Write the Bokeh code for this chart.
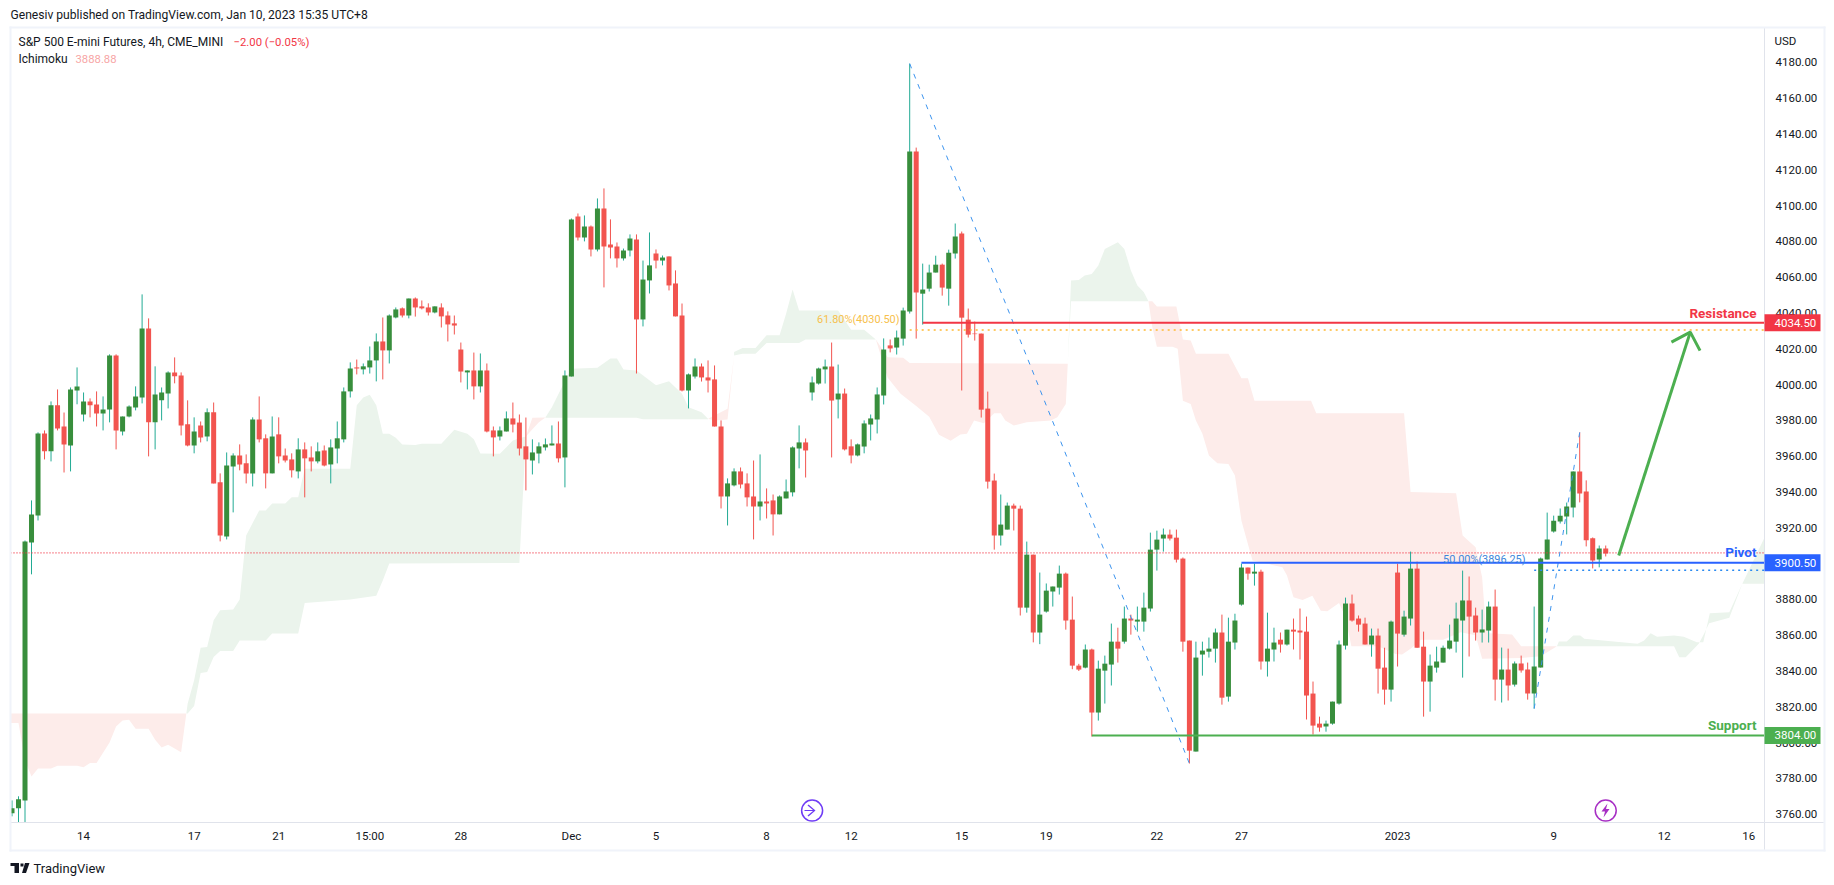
from bokeh.plotting import figure
from bokeh.embed import file_html
from bokeh.resources import INLINE
from bokeh.models import (Range1d, FixedTicker, Label, BoxAnnotation, PolyAnnotation,
                          ColumnDataSource, NumeralTickFormatter)

# ---------- candles (4h bars) ----------
opens = [3760.5,3763.3,3767.7,3911.8,3926.9,3972.7,3962.7,3988.4,3976.6,3966.0,
3996.7,3983.3,3990.6,3988.9,3983.9,3986.1,4016.3,3973.8,3982.2,3987.2,
3992.8,4031.4,3978.9,3991.2,3995,4006.8,4005.1,3977.8,3966,3977.2,
3971,3984.5,3945.4,3915.2,3954.3,3960.4,3956,3950.4,3980.5,3970,
3950.4,3972.2,3960.4,3958.2,3951.5,3963.8,3959.3,3957.1,3963.2,3955.4,
3964.3,3969.4,3996.2,4009.6,4008.5,4009.6,4013.5,4024.1,4019.1,4037.5,
4042.6,4038.6,4048.1,4043.7,4043.1,4040.3,4043.1,4038.6,4034.2,4019.6,
4006.8,4007.9,3999,4007.9,3974.4,3971,3973.8,3981.1,3978.8,3965.5,
3957.6,3961.5,3964.9,3966,3967.1,3959.3,4004.5,4093.9,4082.2,4088.3,
4075.5,4098.4,4078.3,4077.2,4070.5,4074.9,4081.1,4036.4,4058.2,4073.2,
4069.3,4071.6,4056.5,4038.6,3996.7,4004.5,4010.1,4004,4002.9,3976.6,
3937.5,3943.7,3951.5,3944.8,3937.5,3931.9,3934.7,3935.3,3927.5,3936.4,
3939.8,3964.3,3967.7,3995.6,4000.6,4008.5,4010.1,3991.7,3995,3965.5,
3960.4,3965.4,3977.7,3980.5,3993.9,4021.9,4020.7,4025.7,4040.8,4130.2,
4050.8,4053.6,4062.6,4067,4053.6,4073.2,4084.4,4036.3,4028.5,4028.5,
3986.6,3946.4,3915.7,3919,3932.4,3930.7,3875.4,3905,3861.5,3873.2,
3884.4,3886.6,3894.4,3868.7,3843,3841.9,3852,3816.8,3840.2,3843.6,
3856.4,3856.4,3869.3,3867.6,3867.6,3874.9,3907.8,3914,3916.2,3914.5,
3902.8,3857,3795,3849.2,3850.8,3852.5,3861.5,3825.7,3855.9,3877.1,
3897.8,3894.4,3895.5,3845.3,3852,3857.5,3854.8,3863.1,3862.6,3862,
3827.4,3810.6,3809,3810.6,3821.8,3854.2,3877.7,3869.3,3866.5,3854.8,
3859.8,3841.9,3829.6,3895,3860.3,3869.3,3897.2,3853.6,3834.1,3841.9,
3844.7,3852.5,3856.4,3868.2,3879.4,3871,3861.5,3862.6,3876,3835.2,
3840.8,3832.4,3844.2,3840.8,3827.4,3841.9,3902.3,3917.9,3923.5,3926.3,
3931.4,3951.5,3940.3,3914.1,3902.3,3908.5]
closes = [3763.3,3768.3,3912.4,3927.5,3972.7,3962.7,3988.4,3975.5,3966.6,3997.3,
3999,3990.6,3988.4,3983.9,3986.1,4016.3,3974.4,3982.2,3987.8,3993.4,
4031.4,3978.9,3994.5,3995.6,4006.8,4004.6,3977.2,3966,3973.8,3970.5,
3984.5,3944.8,3915.7,3954.8,3960.4,3955.4,3950.4,3980.5,3969.4,3950.4,
3971,3959.9,3957.6,3952.1,3963.8,3958.8,3957.1,3962.7,3954.8,3964.9,
3970,3996.2,4009,4009,4010.2,4013.5,4024.1,4019.1,4038.6,4042,
4038.6,4048.1,4043.1,4042.6,4040.3,4043.7,4038.1,4033.6,4033,4007.3,
4007.9,3999,4007.9,3973.8,3970.5,3974.4,3981.1,3977.7,3964.3,3958.2,
3962.1,3965.5,3966.6,3967.1,3958.8,4005.1,4092.3,4082.2,4088.3,4075.5,
4098.4,4077.2,4076.6,4070.5,4074.9,4081.6,4036.4,4058.7,4066.6,4069.3,
4071,4055.4,4038.1,3996.7,4005.7,4010.1,4004,4002.3,3976.6,3937.5,
3944.8,3951.5,3944.2,3937,3931.9,3934.7,3933.6,3927.5,3937.5,3940.3,
3964.9,3967.7,3963.2,4001.2,4009,4010.1,3991.1,3995,3963.8,3960.4,
3966.6,3978.3,3981.1,3994.5,4019.6,4020.2,4026.3,4041.4,4130.2,4051.4,
4053.1,4062.6,4067,4054.2,4073.7,4082.7,4037.4,4027.9,4028.2,3986,
3945.8,3915.7,3921.8,3932.4,3930.7,3875.4,3905,3861.5,3871.5,3884.9,
3887.2,3894.4,3868.2,3843,3840.8,3852,3816.8,3841.3,3844.1,3856.4,
3852.5,3869.3,3868.2,3868.7,3875.4,3907.8,3913.4,3916.2,3914,3902.2,
3856.4,3795.5,3847.5,3851.4,3852.5,3861.5,3825.1,3856.4,3868.2,3897.8,
3894.4,3895.5,3845.3,3852.5,3855.9,3854.8,3863.1,3862,3861.5,3826.3,
3809.5,3808.4,3810.6,3822.9,3854.8,3877.7,3868.2,3865.9,3854.8,3859.8,
3841.3,3829.6,3867.6,3860.9,3870.4,3897.2,3853,3834.1,3843,3845.3,
3853,3857,3869.3,3879.4,3870.4,3861.5,3863.2,3876,3835.2,3840.8,
3831.9,3844.2,3840.3,3827.4,3842.5,3902.8,3913.4,3924,3926.8,3931.9,
3951.5,3939.2,3913,3901.8,3908.5,3905.7]
highs = [3767.7,3770,3912.9,3935.3,3973.3,3974.4,3990.6,3997.3,3984.4,3998.4,
4009.6,3995.6,3992.3,3996.2,3993.4,4016.9,4016.9,3982.2,3988.4,3999,
4050.4,4037,4010.2,3998.4,4007.4,4015.2,4006.8,3991.2,3981.7,3979.4,
3986.7,3990,3950.4,3962.1,3961.6,3966.6,3961,3981.7,3993.4,3972.2,
3982.2,3981.7,3964.3,3961.6,3970,3967.7,3965.5,3967.7,3966,3969.4,
3979.4,3998.4,4012.4,4014,4011.8,4021.3,4028.6,4037.5,4039.2,4043.1,
4043.1,4048.1,4048.7,4047,4045.4,4043.7,4045.4,4040.9,4038.6,4023.5,
4007.9,4017.9,4017.4,4011.8,3976.6,3976.6,3985,3990,3983.3,3981.6,
3969.4,3967.7,3969.9,3977.2,3979.4,4007.9,4092.8,4095.6,4094.5,4088.9,
4104,4109.6,4092.3,4079.4,4076,4083.9,4083.9,4069.3,4085,4075.5,
4072.1,4071.6,4063.8,4045.3,4006.2,4014.6,4011.8,4013.5,4010.7,3980,
3947.6,3953.2,3953.7,3950.4,3957.6,3961,3942,3938.6,3938.1,3947,
3965.5,3977.2,3969.9,4004.5,4009.5,4014,4023.5,4011.2,3997.8,3969.4,
3967.1,3980,3983.3,3998.4,4025.8,4025.2,4030.2,4043,4179.3,4132.4,
4067.6,4067,4072,4067.6,4075.4,4090,4085.5,4042.5,4035.2,4028.5,
3996.1,3950.3,3938.6,3934.1,3933.5,3932.4,3912.3,3905,3895,3888.9,
3887.2,3898.9,3895,3881.6,3844,3854.8,3852.5,3845.8,3848.6,3866.5,
3864.2,3876,3871.5,3876,3883.8,3917.3,3918.4,3919.6,3919,3919,
3903.4,3857,3856.4,3856.4,3858.7,3863.7,3871.5,3869.8,3872,3900,
3897.8,3900,3896.6,3872.6,3864.2,3861.5,3863.1,3869.3,3874.9,3870.4,
3834.1,3814.5,3812.3,3822.9,3857,3881,3882.7,3871,3869.8,3863.7,
3863.7,3853,3868.2,3900,3873.7,3906.7,3901.1,3862,3849.2,3853.6,
3854.2,3865.9,3878.2,3896.1,3892.8,3875.4,3874.3,3878.8,3885.5,3853.1,
3852.5,3845.3,3848.6,3844.7,3876,3903.4,3928.5,3926.8,3930.8,3934.1,
3951.5,3973.3,3946.5,3914.6,3910.1,3910.1]
lows = [3758.8,3755.5,3755.5,3894,3924.1,3958.2,3957.1,3974.4,3950.9,3951.5,
3989,3979.4,3981.7,3976.6,3974.4,3978.9,3963.8,3971.6,3981.7,3985.6,
3989.5,3959.9,3963.8,3980,3986.7,4000.7,3971.6,3965.5,3961.6,3967.7,
3968.3,3944.8,3912.4,3913.5,3928.6,3952.1,3944.8,3943.1,3967.7,3942,
3950.4,3956,3956.5,3948.1,3947.6,3937,3951.5,3956,3954.3,3944.8,
3956,3967.7,3992.8,4005.7,4005.7,4006.2,4001.8,4002.9,4011.8,4037,
4037.5,4037,4038,4042,4038.6,4039.8,4031.9,4024.1,4028,4001.2,
3997.3,3991.7,3995.6,3973.3,3959.9,3968.8,3973.8,3973.3,3960.4,3940.9,
3949.8,3956,3963.2,3966,3956.5,3942.6,4004.5,4080.5,4080,4071.6,
4074.4,4054.3,4070.5,4065.4,4069.3,4071.6,4006.2,4032.5,4050.9,4064.9,
4066.6,4052.6,4038.1,3996.2,3986.7,4003.4,4001.7,3995.6,3976.6,3930.8,
3921.3,3943.1,3942,3931.9,3913.5,3924.1,3925.2,3915.7,3927.5,3936.4,
3937.5,3953.2,3948.1,3991.1,4000,4000.6,3959.3,3981.1,3963.2,3956,
3959.9,3961.6,3968.8,3972.7,3988.9,4018,4016.8,4021.8,4039.7,4025.7,
4033.5,4052,4062.6,4049.7,4044.1,4070.4,3996.7,4026.3,4024.6,3981.6,
3941.9,3907.8,3910.1,3919,3918.5,3871,3872.6,3856,3855,3872.6,
3876,3882.7,3863.1,3841,3840,3841.5,3803.4,3812.3,3821.8,3831.9,
3844.7,3855.3,3860.3,3862,3862,3873.2,3896.1,3906.7,3912.9,3900.6,
3850.8,3788.3,3795,3837.4,3847.5,3844.7,3821.2,3822.9,3852,3876.5,
3891,3887.7,3840.8,3836.9,3845.3,3850.3,3854.2,3852,3846.4,3812.9,
3804.5,3806.1,3806.1,3810,3821.2,3852,3867.6,3862,3854.8,3848,
3827.4,3821.2,3822.9,3842.5,3859.2,3865.4,3853,3814.5,3817.3,3839.1,
3844.7,3852,3850.3,3836.3,3848.1,3857,3855.9,3855.9,3823.5,3822.4,
3823.5,3831.3,3839.1,3824,3819,3841.9,3902.3,3917.3,3922.4,3916.3,
3925.8,3934.2,3909.6,3897.3,3897.9,3904]

# ---------- Ichimoku cloud outlines as (bar, price) ----------
red1_top = [(-0.23,3816.2),(26.8,3816.2)]
red1_bot = [(-0.23,3811),(1,3811),(2,3790),(3,3781),(4,3785.6),(6,3785.6),(7,3787),(10,3787),(11,3786.2),(12,3788.6),(13,3788.6),(15,3800),(16,3809),(17,3812.4),(18,3812.8),(19,3807.8),(21,3807.8),(22,3801.6),(23,3797.2),(24,3798.8),(26,3794.6),(26.8,3816.2)]
green1_top = [(26.8,3816.2),(27,3821.7),(28,3834.8),(29,3853),(30,3853.4),(31,3868.3),(32,3873.9),(34,3874.3),(35,3879.9),(36,3915.7),(38,3929.7),(39,3929.7),(40,3933.6),(42,3933.6),(43,3937),(44,3937),(45,3953),(52,3953),(53,3988.4),(54,3992.8),(55,3994.3),(56,3988.4),(57,3972.6),(58,3972.6),(59,3970.3),(60,3966.6),(62,3966.2),(63,3967),(66,3967),(68,3974.8),(70,3972.5),(71,3969.5),(72,3961.5),(75,3961.4),(76,3965),(77,3968.8),(78,3970),(79,3971)]
green1_bot = [(26.8,3816.2),(27,3816.2),(28,3820.4),(29,3838.9),(30,3839.4),(31,3847.8),(32,3851.2),(34,3851.2),(35,3857.1),(39,3857.1),(40,3860.9),(44,3860.9),(45,3878),(52,3880),(56,3882),(57,3890.6),(58,3900.1),(78,3900.3),(79,3971)]
red2_top = [(79,3971),(80,3981.5),(82,3981.6)]
red2_bot = [(79,3971),(80,3975),(81,3979),(82,3981.6)]
green2_top = [(82,3981.6),(83,3987.4),(85,4002),(86,4008.8),(90,4009.4),(92,4014.6),(93,4014.6),(94,4008.5),(96,4007.9),(99,3999.7),(100,4000.8),(101,4001.9),(103,3994.9),(104,3987.4),(106,3984.6),(107,3980.9)]
green2_bot = [(82,3981.5),(96,3981.5),(97,3980.7),(107,3980.7)]
red3_top = [(107,3980.9),(110,3986.5),(111,4016)]
red3_bot = [(107,3980.9),(108,3980),(109,3980.2),(110,3980.5),(111,4016)]
green3_top = [(111,4018.2),(112.3,4020.4),(114.3,4020.4),(116,4027.6),(118,4027.6),(119,4039.6),(120,4053.1),(121,4041.4),(127,4041.4),(129,4030.6),(131,4030.6),(132.8,4025.2)]
green3_bot = [(111,4016.3),(112.3,4017.2),(114.3,4017.2),(116,4023.2),(121,4023.2),(122,4025.2),(132.8,4025.2)]
red4_top = [(132.8,4025.2),(134.6,4015.3),(137,4015),(138,4012),(162.3,4011.6)]
red4_bot = [(132.8,4025.2),(134.6,4004),(136.6,3994.9),(139,3988),(141,3982),(142.5,3972),(144.3,3968.7),(145.8,3972.1),(146.8,3972.5),(147.9,3979.9),(149.4,3978.4),(151,3984),(152,3984),(152.7,3979.9),(154,3977.1),(156,3979),(159.7,3979.9),(160.7,3981.8),(162,3989.2),(162.3,4011.6)]
green4_top = [(162.3,4012),(162.8,4058.1),(164,4058.5),(164.9,4060.9),(166,4061.8),(167,4066.5),(168,4075.8),(170,4079.5),(171,4075.8),(172,4063.7),(173,4055.3),(174,4051.6),(174.7,4046.6)]
green4_bot = [(162.3,4012),(162.8,4046.6),(174.7,4046.6)]
red5_top = [(174.7,4046.6),(175.3,4046.6),(176,4043.6),(179,4043.6),(180,4025.2),(181.2,4024.6),(182,4017.2),(187,4017.2),(189,4003.6),(190,4003.6),(191,3991),(199.7,3991),(200.5,3984),(214,3984),(215,3940),(222,3939.3),(223,3915.7),(225,3909.2),(226,3892.4),(226.5,3868),(227,3861.1),(230.6,3860.4),(232,3853.8),(237.5,3853.8)]
red5_bot = [(174.7,4046.6),(175.3,4032),(176,4021.2),(178.4,4021.2),(179.2,4020),(180,3991),(181.2,3989.2),(182,3979.9),(183,3972.5),(184,3960.4),(185.3,3956),(187,3955.7),(188,3949.2),(189,3924),(190.7,3901.7),(195.3,3898),(196,3893.3),(197,3881.2),(198.4,3879.7),(199.9,3882.1),(201.2,3873.7),(202.2,3873.4),(204,3878),(205,3870),(205.9,3853.8),(210,3853.8),(212.7,3849.5),(213.7,3849.2),(215,3852.4),(216.6,3857.4),(220,3857.4),(222.7,3861.6),(225,3860),(226,3846.8),(232,3847.3),(235,3848.3),(237.5,3853.8)]
green5_top = [(237.5,3853.8),(237.8,3856.5),(239,3856.5),(240,3859.8),(241.1,3859.8),(241.7,3858),(249.9,3855.2),(250.9,3857),(251.9,3861.1),(252.9,3859.2),(255.5,3859.8),(257,3859.2),(259,3856.1),(260,3856.1),(261,3872.3),(264,3872.8),(266,3888.7),(269.4,3914.5)]
green5_bot = [(237.5,3853.8),(255.5,3853.8),(256.3,3847.7),(257.3,3847.7),(259.3,3855.2),(260.1,3860.7),(260.9,3866.7),(264,3869.7),(266,3888.7),(269.4,3888.7)]

# ---------- ticks and levels ----------
price_ticks = list(range(3760, 4181, 20))
time_ticks = [11, 28, 41, 55, 69, 86, 99, 116, 129, 146, 159, 176, 189, 213, 237, 254, 267]
time_labels = ["14", "17", "21", "15:00", "28", "Dec", "5", "8", "12", "15", "19", "22", "27", "2023", "9", "12", "16"]
resistance = 4034.5
pivot = 3900.5
support = 3804.0
last_price = 3906.0
fib_618 = 4030.5
fib_500 = 3896.25

BAR0_PX, BAR_PX = 11.5, 6.505
FRAME_L, FRAME_R, FRAME_T, FRAME_B = 10, 1764, 27, 822
PX_PER_PT = 1.79
def idx(px): return (px - BAR0_PX) / BAR_PX
def price(py): return 4020 - (py - 348.3) / PX_PER_PT

W, H = 1830, 880
p = figure(width=W, height=H, output_backend="svg", toolbar_location=None,
           x_range=Range1d(idx(FRAME_L), idx(FRAME_R)),
           y_range=Range1d(price(FRAME_B), price(FRAME_T)),
           y_axis_location="right", tools="",
           min_border_left=FRAME_L, min_border_right=W - FRAME_R,
           min_border_top=FRAME_T, min_border_bottom=H - FRAME_B)
p.outline_line_color = None
p.grid.visible = False
p.background_fill_color = "white"

TXT = "#131722"
FONT = "Roboto"
ax = p.xaxis[0]
ax.ticker = FixedTicker(ticks=time_ticks)
ax.major_label_overrides = dict(zip(time_ticks, time_labels))
ay = p.yaxis[0]
ay.ticker = FixedTicker(ticks=price_ticks)
ay.formatter = NumeralTickFormatter(format="0.00")
for a in (ax, ay):
    a.axis_line_color = "#e0e3eb"
    a.major_tick_line_color = None
    a.minor_tick_line_color = None
    a.major_label_text_color = TXT
    a.major_label_text_font = FONT
    a.major_label_text_font_size = "11.5px"
ax.major_label_standoff = 0
ay.major_label_standoff = 5

# ---------- cloud ----------
GREEN_CLOUD, RED_CLOUD = "#ebf4ec", "#fdecea"
for top, bot, col in ((red1_top, red1_bot, RED_CLOUD), (green1_top, green1_bot, GREEN_CLOUD),
                      (red2_top, red2_bot, RED_CLOUD), (green2_top, green2_bot, GREEN_CLOUD),
                      (red3_top, red3_bot, RED_CLOUD), (green3_top, green3_bot, GREEN_CLOUD),
                      (red4_top, red4_bot, RED_CLOUD), (green4_top, green4_bot, GREEN_CLOUD),
                      (red5_top, red5_bot, RED_CLOUD), (green5_top, green5_bot, GREEN_CLOUD)):
    pts = top + bot[::-1]
    p.patch([q[0] for q in pts], [q[1] for q in pts], fill_color=col, line_color=None)

# ---------- candles ----------
bars = list(range(len(opens)))
up = [i for i in bars if closes[i] >= opens[i]]
dn = [i for i in bars if closes[i] < opens[i]]
def src(ids):
    return ColumnDataSource(dict(x=ids, o=[opens[i] for i in ids], c=[closes[i] for i in ids],
                                 h=[highs[i] for i in ids], l=[lows[i] for i in ids]))
GREEN_BODY, GREEN_WICK, RED_BODY = "#388e3c", "#22ab94", "#f2544f"
p.segment("x", "h", "x", "l", source=src(up), line_color=GREEN_WICK, line_width=1)
p.segment("x", "h", "x", "l", source=src(dn), line_color=RED_BODY, line_width=1)
p.vbar("x", 0.77, "o", "c", source=src(up), fill_color=GREEN_BODY, line_color=None)
p.vbar("x", 0.77, "o", "c", source=src(dn), fill_color=RED_BODY, line_color=None)

# ---------- drawings ----------
xl, xr = idx(FRAME_L), idx(FRAME_R)
p.line([xl, xr], [last_price, last_price], line_color="#f23645", line_width=1.3, line_dash=[1, 2])
FIB = "#3d94ee"
p.line([138, 181], [highs[138], lows[181]], line_color=FIB, line_width=1, line_dash=[5, 6])
p.line([234, 241], [lows[234], highs[241]], line_color=FIB, line_width=1, line_dash=[5, 6])
p.line([138, xr], [fib_618, fib_618], line_color="#ffb933", line_width=1.5, line_dash=[2, 4])
p.line([234, xr], [fib_500, fib_500], line_color="#2a8af0", line_width=1.5, line_dash=[2, 4])
p.line([140, xr], [resistance, resistance], line_color="#f23645", line_width=2)
p.line([189, xr], [pivot, pivot], line_color="#2962ff", line_width=2)
p.line([166, xr], [support, support], line_color="#4caf50", line_width=2)
# target arrow
p.multi_line([[247, 258], [255.1, 258, 259.5]], [[3904.5, 4029.3], [4023.7, 4029.3, 4019]],
             line_color="#4caf50", line_width=3)

# ---------- event markers ----------
ev_bar = [123, 245]
ev_price = [3762, 3762]
p.scatter(ev_bar, ev_price, size=21, marker="circle", fill_color="white",
          line_color=["#6f3cf5", "#a72fc4"], line_width=1.5)

# ---------- transparent overlay for everything outside the plot frame ----------
o = figure(width=W, height=H, output_backend="svg", toolbar_location=None, tools="",
           x_range=Range1d(0, W), y_range=Range1d(0, H), x_axis_type=None, y_axis_type=None,
           min_border=0, min_border_left=0, min_border_right=0, min_border_top=0, min_border_bottom=0,
           margin=(-H, 0, 0, 0))
o.outline_line_color = None
o.grid.visible = False
o.background_fill_alpha = 0
o.border_fill_alpha = 0

def sx(px): return px
def sy(py): return H - py

def text(px, py, s, color=TXT, size="12px", style="normal", align="left", font=FONT):
    o.add_layout(Label(x=sx(px), y=sy(py), x_units="screen", y_units="screen", text=s,
                       text_color=color, text_font=font, text_font_size=size,
                       text_font_style=style, text_align=align, text_baseline="middle"))

def box(l, t, r, b, color):
    o.add_layout(BoxAnnotation(left=sx(l), right=sx(r), top=sy(t), bottom=sy(b),
                               left_units="screen", right_units="screen",
                               top_units="screen", bottom_units="screen",
                               fill_color=color, fill_alpha=1, line_alpha=0, level="annotation"))

def poly(pts, color):
    o.add_layout(PolyAnnotation(xs=[sx(a) for a, _ in pts], ys=[sy(b) for _, b in pts],
                                xs_units="screen", ys_units="screen",
                                fill_color=color, fill_alpha=1, line_alpha=0))

# outer frame
FR = "#f0f3fa"
box(9, 26, 1825, 28, FR); box(9, 849, 1825, 851, FR)
box(9, 26, 11, 851, FR); box(1823, 26, 1825, 851, FR)
box(1763.5, 822, 1764.5, 849, "#e0e3eb")
box(1764, 821.5, 1823, 822.5, "#e0e3eb")

# price tags
for val, col in ((resistance, "#f23645"), (pivot, "#2962ff"), (support, "#4caf50")):
    py = 348.3 + (4020 - val) * PX_PER_PT
    box(1764, py - 8.5, 1820, py + 8.5, col)
    text(1774, py, f"{val:.2f}", color="white", size="11.5px")

# texts
text(10, 14.5, "Genesiv published on TradingView.com, Jan 10, 2023 15:35 UTC+8", size="12.1px")
text(18, 41.5, "S&P 500 E-mini Futures, 4h, CME_MINI", size="12px")
text(233, 41.5, "\u22122.00 (\u22120.05%)", color="#f23645", size="11.3px")
text(18, 58.5, "Ichimoku", size="12px")
text(75, 58.5, "3888.88", color="#f7a6a6", size="11.3px")
text(1774, 40, "USD", size="11.5px")
text(1756, 312, "Resistance", color="#f23645", size="13.5px", style="bold", align="right")
text(1756, 551, "Pivot", color="#2962ff", size="13.5px", style="bold", align="right")
text(1756, 724, "Support", color="#4caf50", size="13.5px", style="bold", align="right")
text(899, 319, "61.80%(4030.50)", color="#f7c04a", size="10.9px", align="right")
text(1525, 559, "50.00%(3896.25)", color="#3d86d9", size="10.9px", align="right")
text(33, 868, "TradingView", size="13px")

# logo
box(10, 862.5, 18.5, 865.5, TXT); box(14, 862.5, 18.5, 872.5, TXT)
poly([(20, 863), (23, 863), (23, 866), (20, 866)], TXT)
poly([(24.5, 862.5), (29, 862.5), (25.5, 872.5), (21.5, 872.5)], TXT)

# event icon glyphs
poly([(807, 805), (808, 804), (815, 810), (808, 816), (807, 815), (812.5, 810.5), (804, 810.5), (804, 809.5), (812.5, 809.5)], "#6f3cf5")
poly([(1607, 803), (1601, 811), (1604.5, 811), (1603, 817), (1609, 808.5), (1605.5, 808.5)], "#a72fc4")

open("out.html", "w").write(file_html([p, o], INLINE))
